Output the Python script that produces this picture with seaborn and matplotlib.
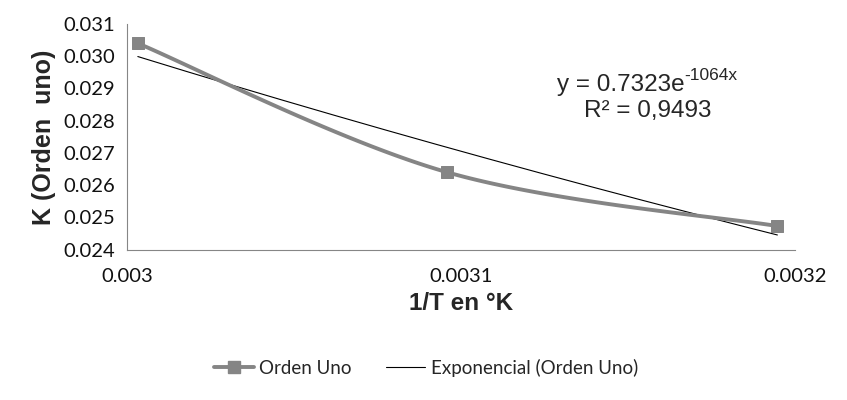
import numpy as np
import pandas as pd
import matplotlib
matplotlib.use("Agg")
import matplotlib.pyplot as plt
from matplotlib.lines import Line2D
import seaborn as sns

# data
inv_t = [0.0030031, 0.0030959, 0.0031948]
k_orden_uno = [0.030401, 0.026400, 0.024734]
# Excel exponential trendline coefficients (y = a * e^(b x))
trend_a = 0.7323
trend_b = -1064
eq_text = "y = 0.7323e"
eq_sup = "-1064x"
r2_text = "R² = 0,9493"
x_ticks = [0.003, 0.0031, 0.0032]
x_ticklabels = ["0.003", "0.0031", "0.0032"]
y_ticks = [0.024, 0.025, 0.026, 0.027, 0.028, 0.029, 0.030, 0.031]

sns.set_style("white")
plt.rcParams['font.family'] = ['Lato', 'DejaVu Sans']

gray = "#858585"
axis_gray = "#868686"

fig = plt.figure(figsize=(8.47, 4.0), dpi=100)
ax = fig.add_axes([0.1505, 0.3757, 0.9383 - 0.1505, 0.94 - 0.3757])
ax.set_xlim(0.003, 0.0032)
ax.set_ylim(0.024, 0.031)

# trendline
df = pd.DataFrame({"x": inv_t, "y": k_orden_uno})
xs = np.linspace(min(inv_t), max(inv_t), 200)
trend = pd.DataFrame({"x": xs, "y": trend_a * np.exp(trend_b * xs)})
sns.lineplot(data=trend, x="x", y="y", ax=ax, color="black", lw=0.8,
             zorder=2)

# smoothed series line (Excel-style bezier, computed in screen space)
fig.canvas.draw()
pts = ax.transData.transform(np.column_stack([inv_t, k_orden_uno]))
ext = np.vstack([pts[0], pts, pts[-1]])
curve = []
t = np.linspace(0, 1, 60)[:, None]
for i in range(len(pts) - 1):
    p0 = pts[i]
    p3 = pts[i + 1]
    p1 = p0 + (ext[i + 2] - ext[i]) / 6.0
    p2 = p3 - (ext[i + 3] - ext[i + 1]) / 6.0
    seg = ((1 - t) ** 3) * p0 + 3 * ((1 - t) ** 2) * t * p1 \
        + 3 * (1 - t) * t ** 2 * p2 + t ** 3 * p3
    curve.append(seg)
curve = ax.transData.inverted().transform(np.vstack(curve))
ax.plot(curve[:, 0], curve[:, 1], color=gray, lw=2.8, zorder=3,
        solid_capstyle="round")
sns.scatterplot(data=df, x="x", y="y", ax=ax, marker="s", s=80,
                color=gray, edgecolor=gray, zorder=4)

# axes styling
for s in ["top", "right"]:
    ax.spines[s].set_visible(False)
for s in ["left", "bottom"]:
    ax.spines[s].set_color(axis_gray)
    ax.spines[s].set_linewidth(0.8)
ax.set_xticks(x_ticks)
ax.set_xticklabels(x_ticklabels)
ax.set_yticks(y_ticks)
ax.set_yticklabels([f"{v:.3f}" for v in y_ticks])
ax.tick_params(axis="both", direction="out", length=5, width=0.8,
               color=axis_gray, labelsize=14.5, labelcolor="#111111")
ax.tick_params(axis="x", pad=8)
ax.tick_params(axis="y", pad=4)

ax.set_xlabel("1/T en °K", fontsize=17.5, fontweight="bold",
              family="Liberation Sans", labelpad=5)
ax.set_ylabel("K (Orden  uno)", fontsize=18, fontweight="bold",
              family="Liberation Sans", labelpad=5)

# trendline equation, superscript as its own text placed after the base
eq = ax.text(0.643, 0.73, eq_text, transform=ax.transAxes, fontsize=17.5,
             family="Liberation Sans", ha="left", va="center")
fig.canvas.draw()
bb = eq.get_window_extent()
fig.text(bb.x1 / fig.bbox.width, (bb.y0 + bb.height * 0.6) / fig.bbox.height,
         eq_sup, fontsize=12.5, family="Liberation Sans", ha="left",
         va="bottom")
ax.text(0.779, 0.615, r2_text, transform=ax.transAxes, fontsize=17.5,
        family="Liberation Sans", ha="center", va="center")

handles = [
    Line2D([0], [0], color=gray, lw=2.8, marker="s", markersize=9),
    Line2D([0], [0], color="black", lw=0.8),
]
fig.legend(handles, ["Orden Uno", "Exponencial (Orden Uno)"],
           loc="center", bbox_to_anchor=(0.503, 0.08), ncol=2, frameon=False,
           fontsize=13.5, handlelength=2.1, columnspacing=1.8,
           handletextpad=0.3)

fig.savefig("out.png", dpi=100)
